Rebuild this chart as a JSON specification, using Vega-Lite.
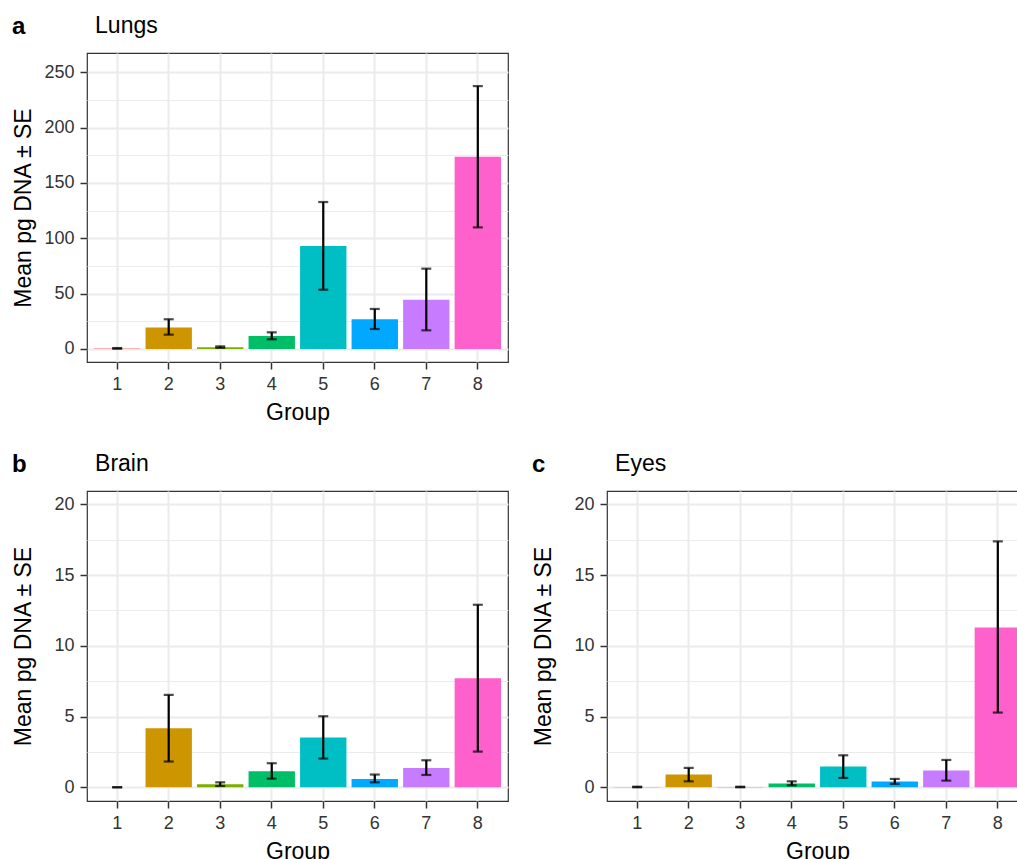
{
  "$schema": "https://vega.github.io/schema/vega-lite/v6.json",
  "background": "white",
  "padding": {"left": 11, "top": 14, "right": 0, "bottom": 0},
  "config": {
    "font": "Liberation Sans",
    "view": {"stroke": "#333333", "strokeWidth": 1.2},
    "axis": {
      "domain": false,
      "tickColor": "#333333",
      "tickSize": 7,
      "tickWidth": 1.5,
      "labelFontSize": 18,
      "labelColor": "#333333",
      "titleFontSize": 23,
      "titleFontWeight": "normal",
      "titleColor": "black",
      "gridColor": "#ebebeb",
      "gridWidth": 2
    },
    "title": {
      "anchor": "start",
      "frame": "bounds",
      "fontSize": 24,
      "fontWeight": "bold",
      "color": "black",
      "subtitleFontSize": 23,
      "subtitleColor": "black",
      "subtitleFont": "Liberation Sans",
      "subtitleFontWeight": "normal",
      "subtitlePadding": -24,
      "offset": 14
    }
  },
  "datasets": {
    "d": [
      {"panel": "Lungs", "group": "1", "mean": 0.5, "lo": 0.2, "hi": 0.8},
      {"panel": "Lungs", "group": "2", "mean": 19.3, "lo": 12.9, "hi": 26.8},
      {"panel": "Lungs", "group": "3", "mean": 1.5, "lo": 1.0, "hi": 2.3},
      {"panel": "Lungs", "group": "4", "mean": 11.7, "lo": 8.7, "hi": 15.0},
      {"panel": "Lungs", "group": "5", "mean": 93.0, "lo": 53.5, "hi": 132.7},
      {"panel": "Lungs", "group": "6", "mean": 26.8, "lo": 18.0, "hi": 36.1},
      {"panel": "Lungs", "group": "7", "mean": 44.5, "lo": 16.8, "hi": 72.5},
      {"panel": "Lungs", "group": "8", "mean": 173.6, "lo": 109.8, "hi": 237.4},
      {"panel": "Brain", "group": "1", "mean": 0, "lo": 0, "hi": 0},
      {"panel": "Brain", "group": "2", "mean": 4.17, "lo": 1.82, "hi": 6.53},
      {"panel": "Brain", "group": "3", "mean": 0.21, "lo": 0.09, "hi": 0.35},
      {"panel": "Brain", "group": "4", "mean": 1.13, "lo": 0.61, "hi": 1.7},
      {"panel": "Brain", "group": "5", "mean": 3.51, "lo": 2.03, "hi": 5.02},
      {"panel": "Brain", "group": "6", "mean": 0.59, "lo": 0.35, "hi": 0.9},
      {"panel": "Brain", "group": "7", "mean": 1.37, "lo": 0.87, "hi": 1.91},
      {"panel": "Brain", "group": "8", "mean": 7.71, "lo": 2.52, "hi": 12.9},
      {"panel": "Eyes", "group": "1", "mean": 0.02, "lo": 0.0, "hi": 0.04},
      {"panel": "Eyes", "group": "2", "mean": 0.9, "lo": 0.42, "hi": 1.37},
      {"panel": "Eyes", "group": "3", "mean": 0.02, "lo": 0.0, "hi": 0.04},
      {"panel": "Eyes", "group": "4", "mean": 0.26, "lo": 0.14, "hi": 0.42},
      {"panel": "Eyes", "group": "5", "mean": 1.46, "lo": 0.66, "hi": 2.26},
      {"panel": "Eyes", "group": "6", "mean": 0.4, "lo": 0.24, "hi": 0.59},
      {"panel": "Eyes", "group": "7", "mean": 1.18, "lo": 0.47, "hi": 1.93},
      {"panel": "Eyes", "group": "8", "mean": 11.3, "lo": 5.28, "hi": 17.38}
    ]
  },
  "spacing": 27,
  "vconcat": [
    {
      "width": 421,
      "height": 309,
      "title": {"text": "a", "subtitle": "\u200b\u00a0\u00a0\u00a0\u00a0\u00a0\u00a0\u00a0\u00a0\u00a0\u00a0\u00a0\u00a0\u00a0Lungs"},
      "data": {"name": "d"},
      "transform": [{"filter": "datum.panel == 'Lungs'"}],
      "encoding": {
        "x": {
          "field": "group", "type": "ordinal",
          "scale": {"paddingInner": 0.1, "paddingOuter": 0.136},
          "axis": {"title": "Group", "labelAngle": 0, "bandPosition": 0.5, "grid": true, "labelPadding": 6, "titlePadding": 8}
        }
      },
      "resolve": {"axis": {"y": "independent"}},
      "layer": [
        {
          "mark": {"type": "bar"},
          "encoding": {
            "y": {
              "field": "mean", "type": "quantitative",
              "scale": {"domain": [-11.8, 267.3], "nice": false, "zero": false},
              "axis": {"orient": "left", "title": "Mean pg DNA ± SE", "values": [0, 50, 100, 150, 200, 250], "labelPadding": 6, "titlePadding": 8, "minExtent": 44, "maxExtent": 44}
            },
            "color": {
              "field": "group", "type": "nominal",
              "scale": {"domain": ["1","2","3","4","5","6","7","8"], "range": ["#F8766D","#CD9600","#7CAE00","#00BE67","#00BFC4","#00A9FF","#C77CFF","#FF61CC"]},
              "legend": null
            }
          }
        },
        {
          "mark": {"type": "errorbar", "ticks": {"size": 10, "thickness": 2.2, "color": "black"}, "rule": {"strokeWidth": 2.2, "color": "black"}},
          "encoding": {
            "y": {
              "field": "lo", "type": "quantitative",
              "axis": {"orient": "left", "values": [25, 75, 125, 175, 225], "grid": true, "gridWidth": 1, "labels": false, "ticks": false, "domain": false, "title": null}
            },
            "y2": {"field": "hi"}
          }
        }
      ]
    },
    {
      "spacing": 22,
      "hconcat": [
        {
          "width": 421,
          "height": 310,
          "title": {"text": "b", "subtitle": "\u200b\u00a0\u00a0\u00a0\u00a0\u00a0\u00a0\u00a0\u00a0\u00a0\u00a0\u00a0\u00a0\u00a0Brain"},
          "data": {"name": "d"},
          "transform": [{"filter": "datum.panel == 'Brain'"}],
          "encoding": {
            "x": {
              "field": "group", "type": "ordinal",
              "scale": {"paddingInner": 0.1, "paddingOuter": 0.136},
              "axis": {"title": "Group", "labelAngle": 0, "bandPosition": 0.5, "grid": true, "labelPadding": 6, "titlePadding": 8}
            }
          },
          "resolve": {"axis": {"y": "independent"}},
          "layer": [
            {
              "mark": {"type": "bar"},
              "encoding": {
                "y": {
                  "field": "mean", "type": "quantitative",
                  "scale": {"domain": [-0.97, 20.94], "nice": false, "zero": false},
                  "axis": {"orient": "left", "title": "Mean pg DNA ± SE", "values": [0, 5, 10, 15, 20], "labelPadding": 6, "titlePadding": 8, "minExtent": 44, "maxExtent": 44}
                },
                "color": {
                  "field": "group", "type": "nominal",
                  "scale": {"domain": ["1","2","3","4","5","6","7","8"], "range": ["#F8766D","#CD9600","#7CAE00","#00BE67","#00BFC4","#00A9FF","#C77CFF","#FF61CC"]},
                  "legend": null
                }
              }
            },
            {
              "mark": {"type": "errorbar", "ticks": {"size": 10, "thickness": 2.2, "color": "black"}, "rule": {"strokeWidth": 2.2, "color": "black"}},
              "encoding": {
                "y": {
                  "field": "lo", "type": "quantitative",
                  "axis": {"orient": "left", "values": [2.5, 7.5, 12.5, 17.5], "grid": true, "gridWidth": 1, "labels": false, "ticks": false, "domain": false, "title": null}
                },
                "y2": {"field": "hi"}
              }
            }
          ]
        },
        {
          "width": 421,
          "height": 310,
          "title": {"text": "c", "subtitle": "\u200b\u00a0\u00a0\u00a0\u00a0\u00a0\u00a0\u00a0\u00a0\u00a0\u00a0\u00a0\u00a0\u00a0Eyes"},
          "data": {"name": "d"},
          "transform": [{"filter": "datum.panel == 'Eyes'"}],
          "encoding": {
            "x": {
              "field": "group", "type": "ordinal",
              "scale": {"paddingInner": 0.1, "paddingOuter": 0.136},
              "axis": {"title": "Group", "labelAngle": 0, "bandPosition": 0.5, "grid": true, "labelPadding": 6, "titlePadding": 8}
            }
          },
          "resolve": {"axis": {"y": "independent"}},
          "layer": [
            {
              "mark": {"type": "bar"},
              "encoding": {
                "y": {
                  "field": "mean", "type": "quantitative",
                  "scale": {"domain": [-0.97, 20.94], "nice": false, "zero": false},
                  "axis": {"orient": "left", "title": "Mean pg DNA ± SE", "values": [0, 5, 10, 15, 20], "labelPadding": 6, "titlePadding": 8, "minExtent": 44, "maxExtent": 44}
                },
                "color": {
                  "field": "group", "type": "nominal",
                  "scale": {"domain": ["1","2","3","4","5","6","7","8"], "range": ["#F8766D","#CD9600","#7CAE00","#00BE67","#00BFC4","#00A9FF","#C77CFF","#FF61CC"]},
                  "legend": null
                }
              }
            },
            {
              "mark": {"type": "errorbar", "ticks": {"size": 10, "thickness": 2.2, "color": "black"}, "rule": {"strokeWidth": 2.2, "color": "black"}},
              "encoding": {
                "y": {
                  "field": "lo", "type": "quantitative",
                  "axis": {"orient": "left", "values": [2.5, 7.5, 12.5, 17.5], "grid": true, "gridWidth": 1, "labels": false, "ticks": false, "domain": false, "title": null}
                },
                "y2": {"field": "hi"}
              }
            }
          ]
        }
      ]
    }
  ]
}
